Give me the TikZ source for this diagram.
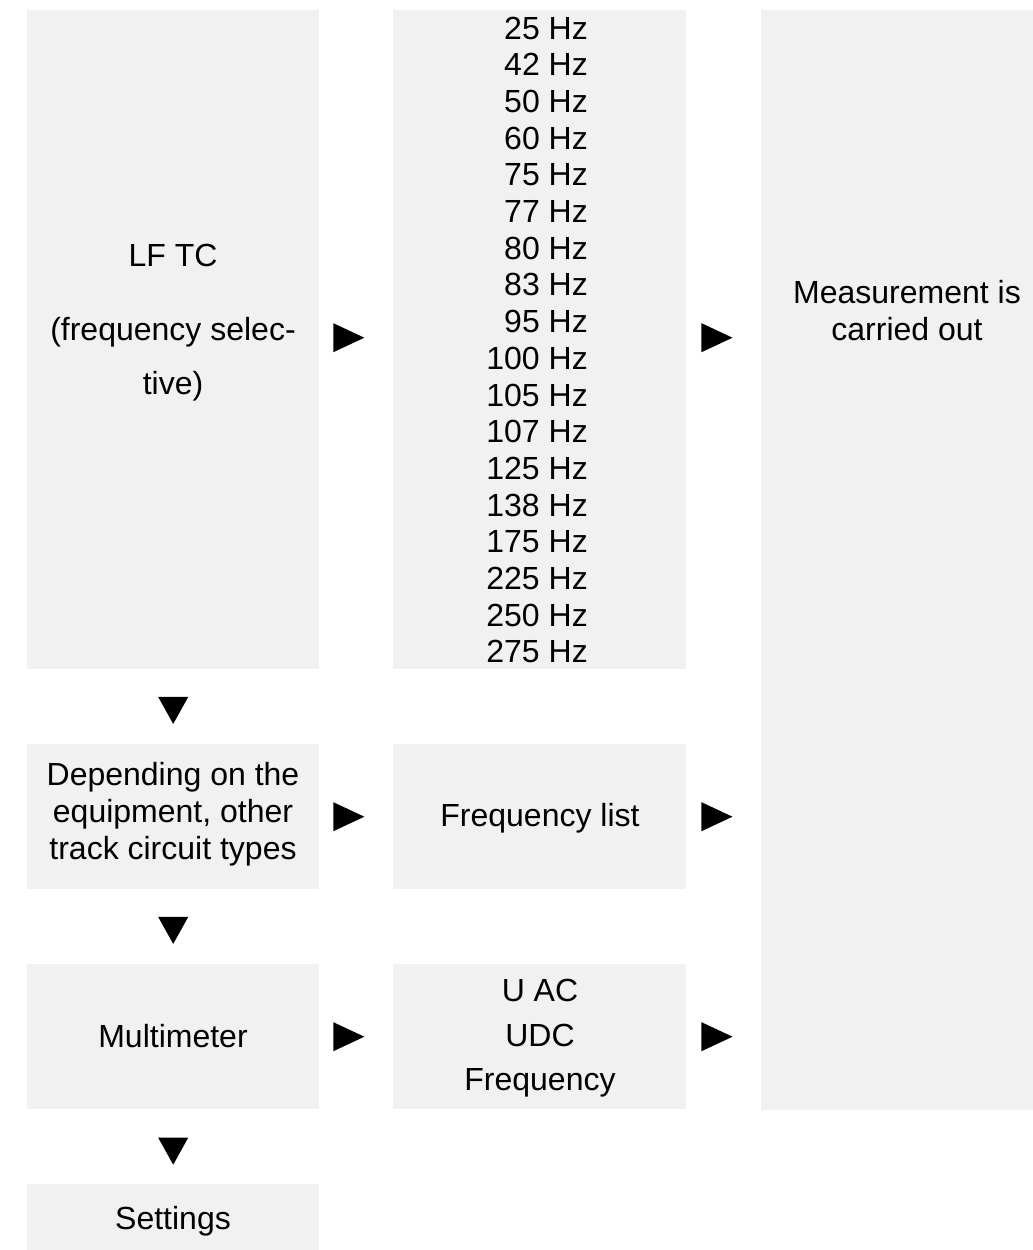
\documentclass[tikz,border=0pt]{standalone}
\usepackage{fontspec}
\setmainfont{Liberation Sans}
\usetikzlibrary{calc}
\definecolor{boxgray}{HTML}{F1F1F1}
\tikzset{
  box/.style={fill=boxgray, draw=none, inner sep=0pt, anchor=north west},
  txt/.style={anchor=base, inner sep=0pt, font=\fontsize{32}{36.8}\selectfont},
  rtri/.pic={\fill[black] (-15.5,-14.5) -- (15.5,0) -- (-15.5,14.5) -- cycle;},
  dtri/.pic={\fill[black] (-15,-13.5) -- (15,-13.5) -- (0,13.5) -- cycle;}
}
\begin{document}
\begin{tikzpicture}[x=1pt,y=-1pt]
\useasboundingbox (0,0) rectangle (1033,1250);
% boxes
\node[box, minimum width=292pt, minimum height=659pt] (lf) at (27,10) {};
\node[box, minimum width=293pt, minimum height=659pt] (freq) at (393,10) {};
\node[box, minimum width=272pt, minimum height=1100pt] (meas) at (761,10) {};
\node[box, minimum width=292pt, minimum height=145pt] (dep) at (27,744) {};
\node[box, minimum width=293pt, minimum height=145pt] (flist) at (393,744) {};
\node[box, minimum width=292pt, minimum height=145pt] (multi) at (27,964) {};
\node[box, minimum width=293pt, minimum height=145pt] (uac) at (393,964) {};
\node[box, minimum width=292pt, minimum height=66pt] (set) at (27,1184) {};
% texts
\node[txt] (lf1) at (173,266) {LF TC};
\node[txt] (lf2) at (173,340) {(frequency selec-};
\node[txt] (lf3) at (173,394) {tive)};
\foreach \f [count=\i from 0] in {25,42,50,60,75,77,80,83,95,100,105,107,125,138,175,225,250,275}
  \node[txt, anchor=base east] (f\i) at (588,{39+36.7*\i}) {\f\ Hz};
\node[txt] (m1) at (907,303) {Measurement is};
\node[txt] (m2) at (907,340) {carried out};
\node[txt] (d1) at (173,785) {Depending on the};
\node[txt] (d2) at (173,822) {equipment, other};
\node[txt] (d3) at (173,859) {track circuit types};
\node[txt] (fl) at (540,826) {Frequency list};
\node[txt] (mm) at (173,1047) {Multimeter};
\node[txt] (u1) at (540,1001) {U AC};
\node[txt] (u2) at (540,1046) {UDC};
\node[txt] (u3) at (540,1090) {Frequency};
\node[txt] (st) at (173,1229) {Settings};
% arrows
\coordinate (a1) at ($(lf.east)!0.4!(freq.west)+(0,-2)$);
\coordinate (a2) at ($(freq.east)!0.41!(meas.west |- freq.east)+(0,-2)$);
\coordinate (a3) at ($(dep.east)!0.4!(flist.west)$);
\coordinate (a4) at ($(flist.east)!0.41!(meas.west |- flist.east)$);
\coordinate (a5) at ($(multi.east)!0.4!(uac.west)$);
\coordinate (a6) at ($(uac.east)!0.41!(meas.west |- uac.east)$);
\coordinate (b1) at ($(lf.south)!0.55!(dep.north)$);
\coordinate (b2) at ($(dep.south)!0.55!(multi.north)$);
\coordinate (b3) at ($(multi.south)!0.56!(set.north)$);
\foreach \c in {a1,a2,a3,a4,a5,a6} \pic at (\c) {rtri};
\foreach \c in {b1,b2,b3} \pic at (\c) {dtri};
\end{tikzpicture}
\end{document}
